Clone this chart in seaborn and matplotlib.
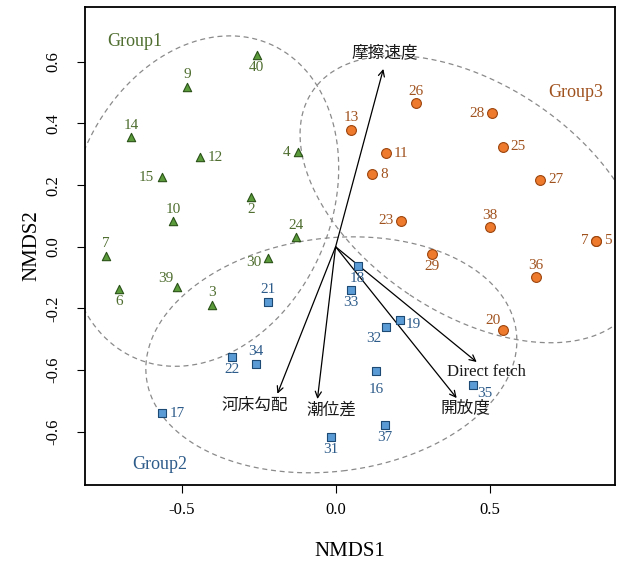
import numpy as np
import pandas as pd
import seaborn as sns
import matplotlib
matplotlib.use("Agg")
import matplotlib.pyplot as plt

# site scores
g1_site = ["40", "9", "14", "12", "4", "15", "2", "10", "24", "7", "30", "6", "39", "3"]
g1_x = [-0.256, -0.481, -0.664, -0.440, -0.121, -0.565, -0.275, -0.527, -0.130, -0.745, -0.219, -0.702, -0.516, -0.402]
g1_y = [0.621, 0.520, 0.355, 0.291, 0.306, 0.226, 0.163, 0.082, 0.031, -0.029, -0.036, -0.136, -0.131, -0.188]

g2_site = ["21", "22", "34", "17", "31", "18", "33", "32", "19", "16", "35", "37"]
g2_x = [-0.220, -0.337, -0.259, -0.565, -0.016, 0.072, 0.049, 0.164, 0.208, 0.132, 0.447, 0.159]
g2_y = [-0.178, -0.359, -0.379, -0.540, -0.618, -0.064, -0.140, -0.260, -0.237, -0.404, -0.450, -0.578]

g3_site = ["26", "13", "28", "11", "25", "8", "27", "23", "38", "7", "5", "29", "36", "20"]
g3_x = [0.261, 0.051, 0.508, 0.163, 0.544, 0.119, 0.665, 0.213, 0.501, 0.846, 0.846, 0.312, 0.650, 0.544]
g3_y = [0.467, 0.380, 0.434, 0.304, 0.325, 0.235, 0.218, 0.084, 0.064, 0.020, 0.020, -0.023, -0.098, -0.269]

# envfit vectors
env_name = ["摩擦速度", "河床勾配", "潮位差", "Direct fetch", "開放度"]
env_x = [0.155, -0.189, -0.059, 0.458, 0.393]
env_y = [0.577, -0.477, -0.494, -0.374, -0.491]

ytick_vals = [0.6, 0.4, 0.2, 0.0, -0.2, -0.4, -0.6]
ytick_text = ["0.6", "0.4", "0.2", "0.0", "-0.2", "-0.6", "-0.6"]
xtick_vals = [-0.5, 0.0, 0.5]
xtick_text = ["-0.5", "0.0", "0.5"]

# where the site number sits relative to the point
g1_lab = ["b", "a", "a", "r", "l", "l", "b", "a", "a", "a", "lb", "b", "al", "a"]
g2_lab = ["a", "b", "a", "r", "b", "b", "b", "bl", "rb", "bb", "br", "b"]
g3_lab = ["a", "a", "l", "r", "r", "r", "r", "l", "a", "l", "r", "b", "a", "al"]

lab_off = {
    "a": (0, 8.5, "center"), "b": (0, -9, "center"), "bb": (0, -13, "center"),
    "l": (-5.5, 0, "right"), "r": (5.5, 0, "left"),
    "lb": (-4.5, -3.5, "right"), "rb": (4.5, -3.5, "left"),
    "al": (-7.5, 6.5, "center"), "bl": (-9, -8, "center"), "br": (8.4, -5.5, "center"),
}
env_off = [(1.2, 11.5), (-16, -8.5), (10, -8), (7, -7), (6.5, -7)]

groups = {
    "Group1": dict(site=g1_site, x=g1_x, y=g1_y, lab=g1_lab, marker="^", s=36,
                   fill="#5a9a3a", edge="#2a5218", text="#4f6e30", name_xy=(-0.651, 0.667)),
    "Group2": dict(site=g2_site, x=g2_x, y=g2_y, lab=g2_lab, marker="s", s=34,
                   fill="#5b9bd5", edge="#1d4a75", text="#2e5c8a", name_xy=(-0.570, -0.708)),
    "Group3": dict(site=g3_site, x=g3_x, y=g3_y, lab=g3_lab, marker="o", s=50,
                   fill="#ee7a2e", edge="#9c450e", text="#a0521e", name_xy=(0.781, 0.501)),
}

sns.set_theme(style="white")
plt.rcParams["font.family"] = ["Liberation Serif", "Noto Sans CJK JP"]
plt.rcParams["axes.unicode_minus"] = False

fig = plt.figure(figsize=(6.18, 5.62), dpi=100)
ax = fig.add_axes([85 / 618, 77 / 562, 530 / 618, 478 / 562])

# sd ellipses, conf = 0.9
scale = np.sqrt(-2 * np.log(1 - 0.9))
t = np.linspace(0, 2 * np.pi, 300)
for g, d in groups.items():
    x = np.array(d["x"])
    y = np.array(d["y"])
    cov = np.cov(x, y)
    vals, vecs = np.linalg.eigh(cov)
    circ = np.vstack([np.cos(t), np.sin(t)]) * np.sqrt(vals)[:, None] * scale
    pts = vecs @ circ
    ax.plot(pts[0] + x.mean(), pts[1] + y.mean(), color="#8a8a8a", lw=0.9,
            linestyle=(0, (4, 3)), zorder=1)

# arrows
for name, hx, hy, off in zip(env_name, env_x, env_y, env_off):
    ax.annotate("", xy=(hx, hy), xytext=(0, 0),
                arrowprops=dict(arrowstyle="->", lw=0.9, color="black",
                                shrinkA=0, shrinkB=0, mutation_scale=11), zorder=2)
    ax.annotate(name, xy=(hx, hy), xytext=off, textcoords="offset points",
                ha="center", va="center", fontsize=12, color="#1a1a1a", zorder=4)

# sites
for g, d in groups.items():
    df = pd.DataFrame({"NMDS1": d["x"], "NMDS2": d["y"]})
    sns.scatterplot(data=df, x="NMDS1", y="NMDS2", ax=ax, marker=d["marker"], s=d["s"],
                    color=d["fill"], edgecolor=d["edge"], linewidth=0.8, zorder=3, legend=False)
    for site, px, py, code in zip(d["site"], d["x"], d["y"], d["lab"]):
        dx, dy, ha = lab_off[code]
        ax.annotate(site, xy=(px, py), xytext=(dx, dy), textcoords="offset points",
                    ha=ha, va="center", fontsize=11, color=d["text"], zorder=4)
    ax.text(d["name_xy"][0], d["name_xy"][1], g, ha="center", va="center",
            fontsize=13, color=d["text"])

ax.set_xlim(-0.8136, 0.907)
ax.set_ylim(-0.773, 0.778)

ax.set_xticks(xtick_vals)
ax.set_xticklabels(xtick_text)
ax.set_yticks(ytick_vals)
ax.set_yticklabels(ytick_text, rotation=90, va="center")
ax.tick_params(axis="both", direction="out", length=5.8, width=0.8, color="black",
               labelsize=12, labelcolor="black")
ax.tick_params(axis="x", pad=6.5, bottom=True)
ax.tick_params(axis="y", pad=11.5, left=True)

for sp in ax.spines.values():
    sp.set_visible(True)
    sp.set_color("black")
    sp.set_linewidth(1.3)

ax.set_xlabel("NMDS1", fontsize=15, color="black")
ax.set_ylabel("NMDS2", fontsize=15, color="black")
ax.xaxis.set_label_coords(0.5, -66 / 478)
ax.xaxis.label.set_va("center")
ax.yaxis.set_label_coords(-53 / 530, 0.5)
ax.yaxis.label.set_va("center")

fig.savefig("out.png", dpi=100, facecolor="white")
